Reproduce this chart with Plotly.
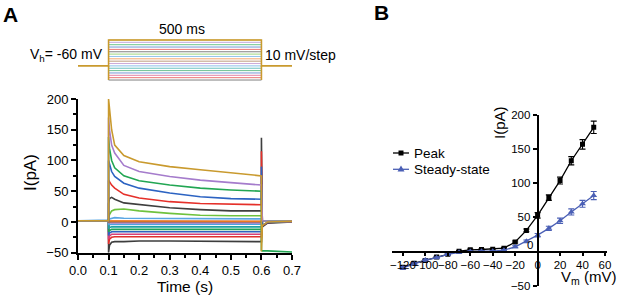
import plotly.graph_objects as go

W, H = 617, 301


def px(x):
    return x / W


def py(y):
    return 1 - y / H


FONT = "Liberation Sans, Arial, sans-serif"

# ---------------- Panel A data ----------------
STEP_MV = [-120, -110, -100, -90, -80, -70, -60, -50, -40, -30, -20, -10, 0, 10, 20, 30, 40, 50]
HOLD_MV = -60
PROTO_T = [0.0, 0.1, 0.6, 0.7]  # holding start, step on, step off, end (s)

TRACE_COLORS = ["#3d3d3d", "#e0302c", "#d6407a", "#2f62c0", "#1fa257", "#1ea3a3",
                "#4fa3e0", "#b07fc5", "#9c6a3a", "#f07a22", "#5aa6e3", "#6fc23e",
                "#3f3f3f", "#e5302a", "#2c63c2", "#22a653", "#a57ccc", "#c99a2e"]

T_PRE = [0.0, 0.0999]
I_PRE = [2, 2]
T_STEP = [0.1, 0.103, 0.11, 0.12, 0.15, 0.2, 0.3, 0.4, 0.5, 0.6]
I_N120 = [-50, -38, -33, -32, -32, -31, -31, -31, -32, -32]
I_N110 = [-36, -28, -25, -24, -24, -24, -24, -24, -24, -24]
I_N100 = [-28, -23, -20, -20, -20, -20, -20, -20, -20, -20]
I_N90 = [-22, -18, -16, -16, -16, -16, -16, -16, -16, -16]
I_N80 = [-16, -14, -12, -12, -12, -12, -12, -12, -12, -12]
I_N70 = [-10, -9, -8, -8, -8, -8, -8, -8, -8, -8]
I_N60 = [-4, -4, -3.5, -3.5, -3.5, -3.5, -3.5, -3.5, -3.5, -3.5]
I_N50 = [-1, -1.5, -1.5, -1.5, -1.5, -1.5, -1.5, -1.5, -1.5, -1.5]
I_N40 = [0, 0.5, 0.5, 0.5, 0.5, 0.5, 0.5, 0.5, 0.5, 0.5]
I_N30 = [1, 2, 2, 2, 2, 2, 2, 1.5, 1.5, 1.5]
I_N20 = [3, 5, 6, 7, 6, 6, 5, 5, 5, 5]
I_N10 = [5, 12, 18, 20, 21, 18, 14, 11, 10, 10]
I_P0 = [30, 38, 40, 37, 31, 28, 23, 20, 18, 18]
I_P10 = [68, 65, 60, 55, 45, 39, 33, 30, 29, 28]
I_P20 = [100, 95, 82, 74, 63, 55, 47, 41, 38, 37]
I_P30 = [138, 120, 100, 88, 75, 67, 60, 55, 52, 50]
I_P40 = [170, 150, 125, 112, 92, 82, 74, 68, 64, 60]
I_P50 = [200, 185, 150, 125, 108, 98, 90, 85, 80, 75]
STEP_TRACES = [I_N120, I_N110, I_N100, I_N90, I_N80, I_N70, I_N60, I_N50, I_N40,
               I_N30, I_N20, I_N10, I_P0, I_P10, I_P20, I_P30, I_P40, I_P50]

# tail after the step: value at 0.6 s (transient), then 0.603, 0.62, 0.7 s
T_POST = [0.6, 0.603, 0.62, 0.7]
TAIL_DEFAULT = [None, 2, 1.5, 1]
TAIL_P0 = [137, -8, -2, 0]
TAIL_P10 = [115, -6, -1, 0.5]
TAIL_P20 = [90, -5, -1, 0.5]
TAIL_P30 = [-46, -47, -47, -49]
TAIL_P50 = [-48, -6, 0, 1]
TAIL_SPECIAL = {0: TAIL_P0, 10: TAIL_P10, 20: TAIL_P20, 30: TAIL_P30, 50: TAIL_P50}

# ---------------- Panel B data ----------------
VM = [-120, -110, -100, -90, -80, -70, -60, -50, -40, -30, -20, -10, 0, 10, 20, 30, 40, 50]
PEAK = [-23, -17, -13, -8, -4, 0.5, 2.5, 3, 3.5, 5, 14, 31, 53, 79, 104, 133, 157, 182]
PEAK_ERR = [2, 1.5, 1.5, 1, 1, 1, 1, 1, 1, 1, 1.5, 2, 4, 4, 5, 6, 7, 9]
SS = [-24, -18, -12.5, -9, -4, -1, 0, 0.5, 0.5, 2, 7, 15, 24, 34, 45, 58, 70, 82]
SS_ERR = [2, 1.5, 1.5, 1, 1, 1, 1, 1, 1, 1, 1.5, 2, 2.5, 3, 4, 4.5, 5, 6]
B_XTICKS = [-120, -100, -80, -60, -40, -20, 0, 20, 40, 60]
B_YTICKS = [-50, 50, 100, 150, 200]
BLUE = "#4a5fb5"

fig = go.Figure()

# protocol (top of panel A)
for mv, col in zip(STEP_MV, TRACE_COLORS):
    fig.add_trace(go.Scatter(x=[PROTO_T[1], PROTO_T[2]], y=[mv, mv], mode="lines",
                             line=dict(color=col, width=1), opacity=0.65,
                             xaxis="x2", yaxis="y2", showlegend=False, hoverinfo="skip"))
gold = TRACE_COLORS[-1]
fig.add_trace(go.Scatter(x=[PROTO_T[0], PROTO_T[1], PROTO_T[1], PROTO_T[2], PROTO_T[2], PROTO_T[3]],
                         y=[HOLD_MV, HOLD_MV, STEP_MV[-1], STEP_MV[-1], HOLD_MV, HOLD_MV],
                         mode="lines", line=dict(color=gold, width=1.6),
                         xaxis="x2", yaxis="y2", showlegend=False, hoverinfo="skip"))
fig.add_trace(go.Scatter(x=[PROTO_T[1], PROTO_T[1], None, PROTO_T[2], PROTO_T[2]],
                         y=[STEP_MV[0], HOLD_MV, None, STEP_MV[0], HOLD_MV],
                         mode="lines", line=dict(color=gold, width=1.6),
                         xaxis="x2", yaxis="y2", showlegend=False, hoverinfo="skip"))

# current traces
for mv, col, ivals in zip(STEP_MV, TRACE_COLORS, STEP_TRACES):
    tail = list(TAIL_SPECIAL.get(mv, TAIL_DEFAULT))
    if tail[0] is None:
        tail[0] = ivals[-1]
    xs = T_PRE + T_STEP + T_POST
    ys = I_PRE + ivals + tail
    fig.add_trace(go.Scatter(x=xs, y=ys, mode="lines", line=dict(color=col, width=1.6),
                             xaxis="x", yaxis="y", showlegend=False, hoverinfo="skip"))

# IV curves
fig.add_trace(go.Scatter(x=VM, y=PEAK, name="Peak", mode="lines+markers",
                         line=dict(color="black", width=1.3),
                         marker=dict(symbol="square", size=5, color="black"),
                         error_y=dict(type="data", array=PEAK_ERR, color="black", thickness=1.1, width=3),
                         xaxis="x3", yaxis="y3", showlegend=False))
fig.add_trace(go.Scatter(x=VM, y=SS, name="Steady-state", mode="lines+markers",
                         line=dict(color=BLUE, width=1.3),
                         marker=dict(symbol="triangle-up", size=6, color=BLUE),
                         error_y=dict(type="data", array=SS_ERR, color=BLUE, thickness=1.1, width=3),
                         xaxis="x3", yaxis="y3", showlegend=False))

axis_common = dict(showline=True, linecolor="black", linewidth=2, ticks="outside",
                   tickcolor="black", tickwidth=1.5, showgrid=False, zeroline=False,
                   automargin=False,
                   tickfont=dict(family=FONT, size=13, color="black"))
small_font = dict(family=FONT, size=11.5, color="black")

p_top, p_bot = 38.8, 81.2
fig.update_layout(
    width=W, height=H, margin=dict(l=0, r=0, t=0, b=0, autoexpand=False),
    paper_bgcolor="white", plot_bgcolor="white",
    font=dict(family=FONT, color="black"),
    xaxis=dict(domain=[px(78), px(292)], range=[0, 0.7], anchor="y", dtick=0.1,
               tickformat=".1f", ticklen=5,
               minor=dict(dtick=0.05, ticklen=3, ticks="outside", tickcolor="black", tickwidth=1.5),
               title=dict(text="Time (s)", font=dict(size=15.5), standoff=1),
               **axis_common),
    yaxis=dict(domain=[py(252.7), py(99)], range=[-50, 200], anchor="x", dtick=50, ticklen=5,
               minor=dict(dtick=25, ticklen=3, ticks="outside", tickcolor="black", tickwidth=1.5),
               **axis_common),
    xaxis2=dict(domain=[px(78), px(292)], range=[0, 0.7], anchor="y2", visible=False, automargin=False),
    yaxis2=dict(domain=[py(p_bot), py(p_top)], range=[-125, 55], anchor="x2", visible=False,
                automargin=False),
    xaxis3=dict(domain=[px(391.7), px(607.2)], range=[-130, 62], anchor="free", position=py(251.6),
                tickvals=B_XTICKS, ticklen=3, tickangle=0,
                **{**axis_common, "linewidth": 1.8, "tickfont": small_font}),
    yaxis3=dict(domain=[py(285.7), py(115)], range=[-50, 200], anchor="free", position=px(537.6),
                tickvals=B_YTICKS, ticklen=4,
                **{**axis_common, "linewidth": 1.8, "tickfont": small_font}),
    showlegend=False,
)

ann = [
    dict(text="<b>A</b>", x=px(1), y=py(15), xanchor="left", yanchor="middle", font=dict(size=21)),
    dict(text="<b>B</b>", x=px(372), y=py(13), xanchor="left", yanchor="middle", font=dict(size=21)),
    dict(text="500 ms", x=px(182), y=py(29), xanchor="center", yanchor="middle", font=dict(size=14)),
    dict(text="V<sub>h</sub>= -60 mV", x=px(105), y=py(55), xanchor="right", yanchor="middle",
         font=dict(size=14)),
    dict(text="10 mV/step", x=px(263), y=py(55), xanchor="left", yanchor="middle", font=dict(size=14)),
    dict(text="I(pA)", x=px(30), y=py(173), xanchor="center", yanchor="middle", textangle=-90,
         font=dict(size=17)),
    dict(text="I(pA)", x=px(499), y=py(123), xanchor="center", yanchor="middle", textangle=-90,
         font=dict(size=15)),
    dict(text="V<sub>m</sub> (mV)", x=px(559), y=py(277), xanchor="left", yanchor="middle",
         font=dict(size=15)),
    dict(text="0", x=px(535), y=py(245), xanchor="right", yanchor="middle", font=dict(size=11.5)),
    dict(text="Peak", x=px(412), y=py(153), xanchor="left", yanchor="middle", font=dict(size=13.5)),
    dict(text="Steady-state", x=px(412), y=py(169.3), xanchor="left", yanchor="middle",
         font=dict(size=13.5)),
]
for a in ann:
    a.update(xref="paper", yref="paper", showarrow=False)
    a["font"] = dict(family=FONT, color="black", **a["font"])

# hand-drawn legend keys (paper coordinates)
shapes = [
    dict(type="line", x0=px(393), x1=px(409), y0=py(153), y1=py(153),
         line=dict(color="black", width=1.3)),
    dict(type="rect", x0=px(398.5), x1=px(403.5), y0=py(155.5), y1=py(150.5),
         line=dict(width=0), fillcolor="black"),
    dict(type="line", x0=px(393), x1=px(409), y0=py(169.3), y1=py(169.3),
         line=dict(color=BLUE, width=1.3)),
    dict(type="path",
         path=f"M {px(397.5)},{py(171.6)} L {px(404.5)},{py(171.6)} L {px(401)},{py(165.6)} Z",
         line=dict(width=0), fillcolor=BLUE),
]
for s in shapes:
    s.update(xref="paper", yref="paper")

fig.update_layout(annotations=ann, shapes=shapes)

# remove the browser's default 8px page margin so the figure starts at the window corner
fig.write_html("out.html", config={"displayModeBar": False},
               post_script="document.body.style.margin='0px';")
